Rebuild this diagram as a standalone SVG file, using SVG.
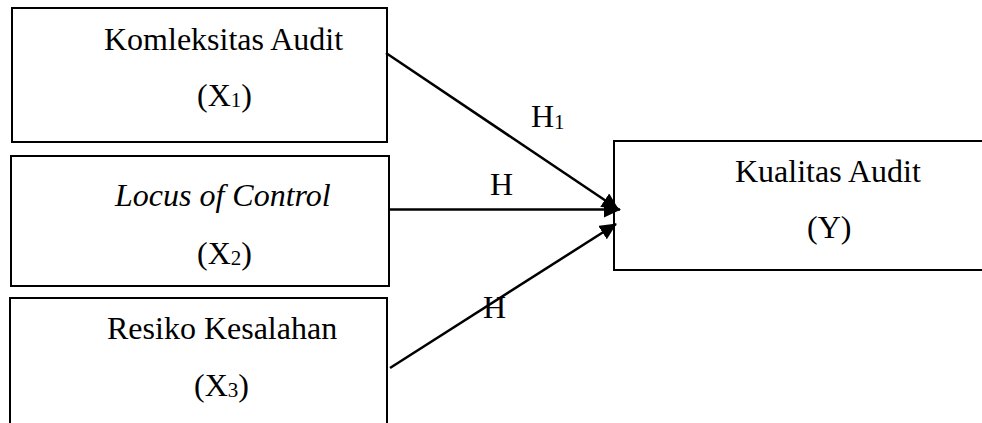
<svg xmlns="http://www.w3.org/2000/svg" width="982" height="423" viewBox="0 0 982 423">
  <style>
    .box { fill: #ffffff; stroke: #000000; stroke-width: 2; }
    .t { font-family: "Liberation Serif", "Times New Roman", serif; font-size: 32px; fill: #000000; }
    .i { font-style: italic; }
    .sub { font-size: 21px; }
    .conn { stroke: #000000; stroke-width: 2.5; fill: none; marker-end: url(#arrow); }
  </style>
  <defs>
    <marker id="arrow" markerUnits="userSpaceOnUse" markerWidth="18" markerHeight="16" refX="16" refY="8" orient="auto">
      <path d="M0,0 L17,8 L0,16 z" fill="#000000"/>
    </marker>
  </defs>
  <rect width="982" height="423" fill="#ffffff"/>
  <g id="x1">
    <rect class="box" x="12" y="8" width="375" height="134"/>
    <text class="t" x="104" y="50">Komleksitas Audit</text>
    <text class="t" x="197" y="106">(X<tspan class="sub" dy="1">1</tspan><tspan dy="-1">)</tspan></text>
  </g>
  <g id="x2">
    <rect class="box" x="11" y="156" width="378" height="130"/>
    <text class="t i" x="115" y="206">Locus of Control</text>
    <text class="t" x="197" y="264">(X<tspan class="sub" dy="1">2</tspan><tspan dy="-1">)</tspan></text>
  </g>
  <g id="x3">
    <rect class="box" x="10" y="298" width="377" height="140"/>
    <text class="t" x="107" y="339">Resiko Kesalahan</text>
    <text class="t" x="194" y="396">(X<tspan class="sub" dy="1">3</tspan><tspan dy="-1">)</tspan></text>
  </g>
  <g id="y">
    <rect class="box" x="614" y="141" width="380" height="129"/>
    <text class="t" x="735" y="182">Kualitas Audit</text>
    <text class="t" x="807" y="238">(Y)</text>
  </g>
  <g id="connectors">
    <line class="conn" x1="386" y1="53" x2="618" y2="209"/>
    <line class="conn" x1="388" y1="209.5" x2="620" y2="209.5"/>
    <line class="conn" x1="390" y1="368" x2="616" y2="224"/>
    <text class="t" x="531" y="127">H<tspan class="sub" dy="2">1</tspan></text>
    <text class="t" x="490" y="195">H</text>
    <text class="t" x="483" y="318">H</text>
  </g>
</svg>
